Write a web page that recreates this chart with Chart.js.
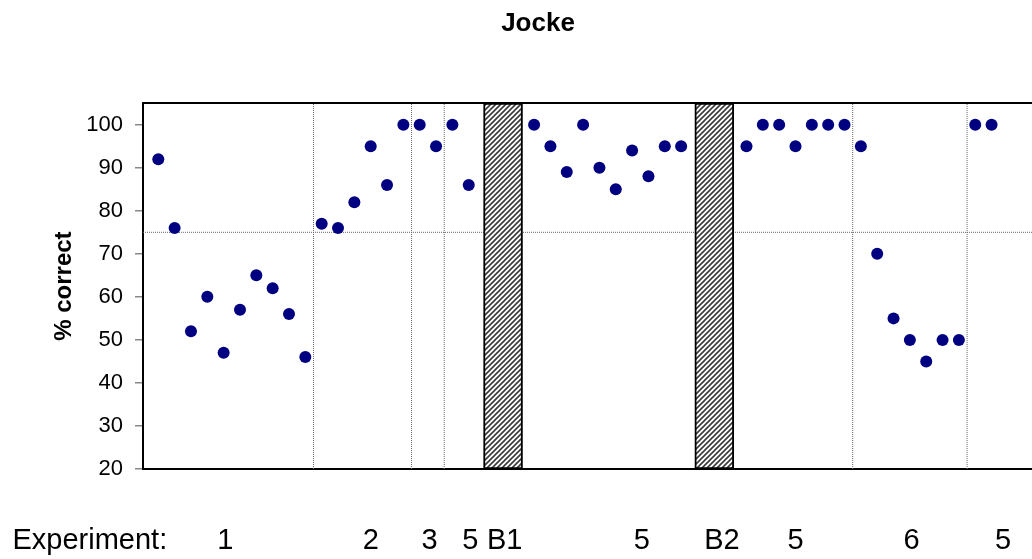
<!DOCTYPE html>
<html>
<head>
<meta charset="utf-8">
<title>Jocke</title>
<script src="https://cdn.jsdelivr.net/npm/chart.js@4.4.0/dist/chart.umd.min.js"></script>
<style>
  html, body { margin: 0; padding: 0; background: #fff; overflow: hidden; }
  #wrap { width: 1076px; height: 559px; }
</style>
</head>
<body>
<div id="wrap"><canvas id="jocke-chart"></canvas></div>
<script>
// session number (x) and % correct (y)
const sessions = [0, 1, 2, 3, 4, 5, 6, 7, 8, 9,
  10, 11, 12, 13, 14, 15, 16, 17, 18, 19,
  23, 24, 25, 26, 27, 28, 29, 30, 31, 32,
  36, 37, 38, 39, 40, 41, 42,
  43, 44, 45, 46, 47, 48, 49,
  50, 51]
const pctCorrect = [92, 76, 52, 60, 47, 57, 65, 62, 56, 46,
  77, 76, 82, 95, 86, 100, 100, 95, 100, 86,
  100, 95, 89, 100, 90, 85, 94, 88, 95, 95,
  95, 100, 100, 95, 100, 100, 100,
  95, 70, 55, 50, 45, 50, 50,
  100, 100]

// breaks between experiments, and the two B blocks
const dividers = [9.5, 15.5, 17.5, 42.5, 49.5]
const blockCenters = [21.1, 34.03]
const criterion = 75

// labels under the axis
const expLabels = ['Experiment:', '1', '2', '3', '5', 'B1', '5', 'B2', '5', '6', '5']
const expLabelPos = [-4.19, 4.1, 13.0, 16.6, 19.1, 21.2, 29.6, 34.5, 39.0, 46.1, 51.7]
const yTicks = [20, 30, 40, 50, 60, 70, 80, 90, 100]

const xMin = -0.936
const xMax = 55.8
const yMin = 20
const yMax = 105

Chart.defaults.font.family = "'Liberation Sans', Arial, sans-serif"
Chart.defaults.color = '#000'

function makeHatch() {
  const c = document.createElement('canvas')
  c.width = 5
  c.height = 5
  const g = c.getContext('2d')
  g.fillStyle = '#fff'
  g.fillRect(0, 0, 5, 5)
  g.strokeStyle = '#3a3a3a'
  g.lineWidth = 1.6
  g.beginPath()
  g.moveTo(-1, 6); g.lineTo(6, -1)
  g.moveTo(-1, 1); g.lineTo(1, -1)
  g.moveTo(4, 6); g.lineTo(6, 4)
  g.stroke()
  return g.createPattern(c, 'repeat')
}

const points = sessions.map((s, i) => ({ x: s, y: pctCorrect[i] }))

const dividerSets = dividers.map(d => ({
  type: 'line',
  data: [{ x: d, y: yMin }, { x: d, y: yMax }],
  borderColor: '#666',
  borderWidth: 1,
  borderDash: [1, 1],
  pointRadius: 0,
  order: 3
}))

const ctx = document.getElementById('jocke-chart')
new Chart(ctx, {
  type: 'scatter',
  data: {
    datasets: [
      {
        type: 'scatter',
        label: '% correct',
        data: points,
        backgroundColor: '#000080',
        borderColor: '#000080',
        pointRadius: 6,
        pointBorderWidth: 0,
        order: 0
      },
      {
        type: 'bar',
        label: 'blocks',
        data: blockCenters.map(b => ({ x: b, y: [yMin, yMax] })),
        backgroundColor: makeHatch(),
        borderColor: '#000',
        borderWidth: 2,
        borderSkipped: false,
        barThickness: 39,
        order: 1
      },
      {
        type: 'line',
        label: 'criterion',
        data: [{ x: xMin, y: criterion }, { x: xMax, y: criterion }],
        borderColor: '#666',
        borderWidth: 1,
        borderDash: [1, 1],
        pointRadius: 0,
        order: 3
      },
      ...dividerSets
    ]
  },
  options: {
    responsive: true,
    maintainAspectRatio: false,
    animation: false,
    events: [],
    layout: { padding: 0 },
    plugins: {
      legend: { display: false },
      tooltip: { enabled: false },
      title: {
        display: true,
        text: 'Jocke',
        color: '#000',
        font: { size: 26, weight: 'bold' },
        padding: { top: 8, bottom: 64 }
      }
    },
    scales: {
      x: {
        type: 'linear',
        position: 'bottom',
        offset: false,
        min: xMin,
        max: xMax,
        grid: { display: false, drawTicks: false, offset: false },
        border: { display: true, color: '#000', width: 2 },
        afterBuildTicks: (scale) => {
          scale.ticks = expLabelPos.map(v => ({ value: v }))
        },
        afterFit: (scale) => {
          scale.height = 90
          scale.paddingLeft = 0
          scale.paddingRight = 0
        },
        ticks: {
          autoSkip: false,
          maxRotation: 0,
          minRotation: 0,
          padding: 55,
          color: '#000',
          font: { size: 29 },
          callback: (value, index) => expLabels[index]
        }
      },
      xTop: {
        type: 'linear',
        position: 'top',
        display: true,
        grid: { display: false, drawTicks: false },
        ticks: { display: false },
        border: { display: true, color: '#000', width: 2 },
        afterFit: (scale) => { scale.height = 0 }
      },
      y: {
        type: 'linear',
        min: yMin,
        max: yMax,
        afterBuildTicks: (scale) => {
          scale.ticks = yTicks.map(v => ({ value: v }))
        },
        afterFit: (scale) => { scale.width = 143 },
        grid: {
          display: true,
          drawOnChartArea: false,
          drawTicks: true,
          tickLength: 8,
          color: '#888',
          lineWidth: 1.5
        },
        border: { display: true, color: '#000', width: 2 },
        ticks: {
          padding: 12,
          color: '#000',
          font: { size: 22 }
        },
        title: {
          display: true,
          text: '% correct',
          color: '#000',
          font: { size: 24, weight: 'bold' },
          padding: { top: 50, bottom: 0 }
        }
      }
    }
  }
})
</script>
</body>
</html>
